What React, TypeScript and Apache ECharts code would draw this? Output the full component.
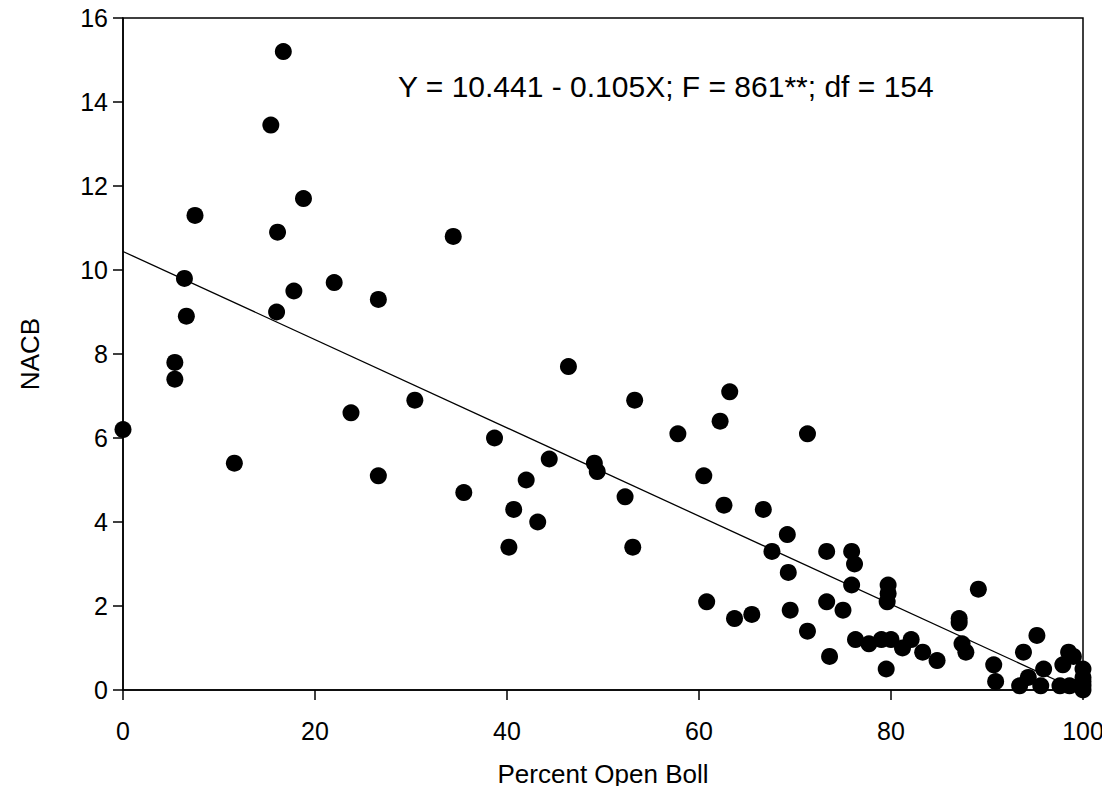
import React, { useEffect, useRef } from "react";
import * as echarts from "echarts";

const percentOpenBoll = [
  0, 5.4, 5.4, 6.4, 6.6, 7.5, 11.6, 15.4, 16.0, 16.1, 16.7, 17.8, 18.8, 22.0, 23.75, 26.6, 26.6, 30.4,
  34.4, 35.5, 38.7, 40.2, 40.7, 42.0, 43.2, 44.4, 46.4, 49.1, 49.4, 52.3, 53.1, 53.3, 57.8, 60.5, 60.8,
  62.2, 62.6, 63.2, 63.7, 65.5, 66.7, 67.6, 69.2, 69.3, 69.5, 71.3, 71.3, 73.3, 73.3, 73.6, 75.0, 75.9,
  76.2, 75.9, 76.3, 77.7, 79.0, 80.0, 79.5, 79.7, 79.7, 79.6, 81.2, 82.1, 83.3, 84.8, 87.1, 87.1, 87.4,
  87.8, 89.1, 90.7, 90.9, 93.4, 93.8, 94.3, 95.2, 95.9, 95.6, 97.6, 97.9, 98.5, 98.6, 99.0, 99.7, 100,
  100, 100, 100, 100,
];
const nacb = [
  6.2, 7.8, 7.4, 9.8, 8.9, 11.3, 5.4, 13.45, 9.0, 10.9, 15.2, 9.5, 11.7, 9.7, 6.6, 9.3, 5.1, 6.9,
  10.8, 4.7, 6.0, 3.4, 4.3, 5.0, 4.0, 5.5, 7.7, 5.4, 5.2, 4.6, 3.4, 6.9, 6.1, 5.1, 2.1,
  6.4, 4.4, 7.1, 1.7, 1.8, 4.3, 3.3, 3.7, 2.8, 1.9, 6.1, 1.4, 3.3, 2.1, 0.8, 1.9, 3.3,
  3.0, 2.5, 1.2, 1.1, 1.2, 1.2, 0.5, 2.5, 2.3, 2.1, 1.0, 1.2, 0.9, 0.7, 1.7, 1.6, 1.1,
  0.9, 2.4, 0.6, 0.2, 0.1, 0.9, 0.3, 1.3, 0.5, 0.1, 0.1, 0.6, 0.9, 0.1, 0.8, 0.1, 0.5,
  0.3, 0.2, 0.1, 0,
];
const intercept = 10.441;
const slope = -0.105;
const fitX = [0, 100];
const equationText = "Y = 10.441 - 0.105X; F = 861**; df = 154";
const xTitle = "Percent Open Boll";
const yTitle = "NACB";

const FONT = "'Liberation Sans', Arial, Helvetica, sans-serif";

export default function App() {
  const ref = useRef<HTMLDivElement>(null);
  useEffect(() => {
    if (!ref.current) return;
    const chart = echarts.init(ref.current, undefined, { renderer: "svg" });
    const points = percentOpenBoll.map((x, i) => [x, nacb[i]]);
    const fit = fitX.map((x) => [x, intercept + slope * x]);
    chart.setOption({
      animation: false,
      backgroundColor: "#ffffff",
      grid: {
        left: 123,
        right: 27,
        top: 18,
        bottom: 104,
        show: true,
        borderColor: "#000",
        borderWidth: 1.5,
      },
      xAxis: {
        type: "value",
        min: 0,
        max: 100,
        interval: 20,
        name: xTitle,
        nameLocation: "middle",
        nameGap: 71,
        nameTextStyle: { fontFamily: FONT, fontSize: 26, color: "#000" },
        axisLine: { show: true, onZero: false, lineStyle: { color: "#000", width: 1.5 } },
        axisTick: { show: true, inside: false, length: 10, lineStyle: { color: "#000", width: 1.5 } },
        axisLabel: { fontFamily: FONT, fontSize: 25, color: "#000", margin: 28 },
        splitLine: { show: false },
      },
      yAxis: {
        type: "value",
        min: 0,
        max: 16,
        interval: 2,
        name: yTitle,
        nameLocation: "middle",
        nameGap: 80,
        nameRotate: 90,
        nameTextStyle: { fontFamily: FONT, fontSize: 26, color: "#000" },
        axisLine: { show: true, onZero: false, lineStyle: { color: "#000", width: 1.5 } },
        axisTick: { show: true, inside: false, length: 10, lineStyle: { color: "#000", width: 1.5 } },
        axisLabel: { fontFamily: FONT, fontSize: 25, color: "#000", margin: 15 },
        splitLine: { show: false },
      },
      graphic: [
        {
          type: "text",
          left: 398,
          top: 71,
          style: { text: equationText, fontFamily: FONT, fontSize: 30, fill: "#000" },
        },
      ],
      series: [
        {
          type: "line",
          data: fit,
          symbol: "none",
          clip: false,
          lineStyle: { color: "#000", width: 1.3 },
          z: 1,
        },
        {
          type: "scatter",
          data: points,
          symbol: "circle",
          symbolSize: 17,
          clip: false,
          itemStyle: { color: "#000", opacity: 1 },
          z: 2,
        },
      ],
    });
    return () => chart.dispose();
  }, []);
  return <div ref={ref} style={{ width: 1110, height: 794, margin: -8 }} />;
}
